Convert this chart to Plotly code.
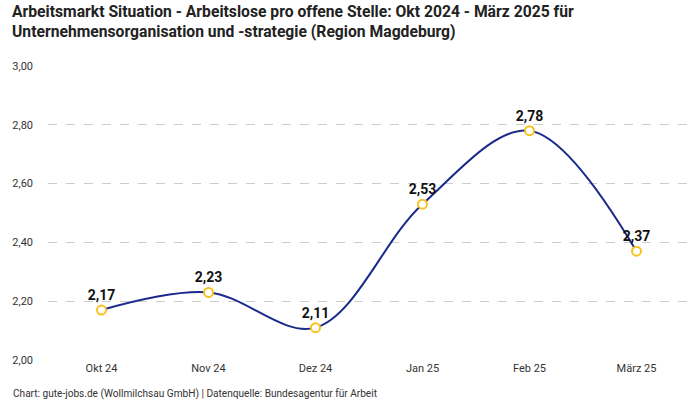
import plotly.graph_objects as go

categories = ["Okt 24", "Nov 24", "Dez 24", "Jan 25", "Feb 25", "März 25"]
values = [2.17, 2.23, 2.11, 2.53, 2.78, 2.37]
labels = ["2,17", "2,23", "2,11", "2,53", "2,78", "2,37"]
y_ticks = [2.0, 2.2, 2.4, 2.6, 2.8, 3.0]
y_tick_labels = ["2,00", "2,20", "2,40", "2,60", "2,80", "3,00"]

fig = go.Figure()
fig.add_trace(go.Scatter(
    x=categories, y=values,
    mode="lines+markers+text",
    line=dict(color="#1a2a8c", width=2, shape="spline", smoothing=1.0),
    marker=dict(size=9, color="white", line=dict(color="#f7c21e", width=2)),
    text=labels, textposition="top center",
    textfont=dict(family="Roboto", size=14, color="#111111", weight="bold"),
    cliponaxis=False, hoverinfo="skip",
))

fig.update_layout(
    width=700, height=400,
    margin=dict(l=48, r=10, t=66, b=40),
    paper_bgcolor="white", plot_bgcolor="white",
    showlegend=False,
    separators=",.",
    xaxis=dict(
        type="category", range=[-0.5, 5.5], showgrid=False, zeroline=False,
        showline=False, ticks="", tickfont=dict(family="Roboto", size=11, color="#333333"),
    ),
    yaxis=dict(
        range=[2.0, 3.0], tickvals=y_ticks, ticktext=y_tick_labels,
        showgrid=True, gridcolor="#cccccc", griddash="dash", gridwidth=1,
        zeroline=False, showline=False, ticks="",
        ticklabelstandoff=14,
        tickfont=dict(family="Roboto", size=11, color="#333333"),
    ),
)

fig.add_annotation(
    text="<b>Arbeitsmarkt Situation - Arbeitslose pro offene Stelle: Okt 2024 - März 2025 für<br>Unternehmensorganisation und -strategie (Region Magdeburg)</b>",
    xref="paper", yref="paper", x=-0.0592, y=1.226, xanchor="left", yanchor="top",
    align="left", showarrow=False,
    font=dict(family="Roboto", size=15.7, color="#222222"),
)

fig.add_annotation(
    text="Chart: gute-jobs.de (Wollmilchsau GmbH) | Datenquelle: Bundesagentur für Arbeit",
    xref="paper", yref="paper", x=-0.058, y=-0.088, xanchor="left", yanchor="top",
    showarrow=False, font=dict(family="Roboto", size=10.1, color="#333333"),
)

fig.write_html("out.html", config={"displayModeBar": False},
               post_script="document.body.style.margin='0';")
